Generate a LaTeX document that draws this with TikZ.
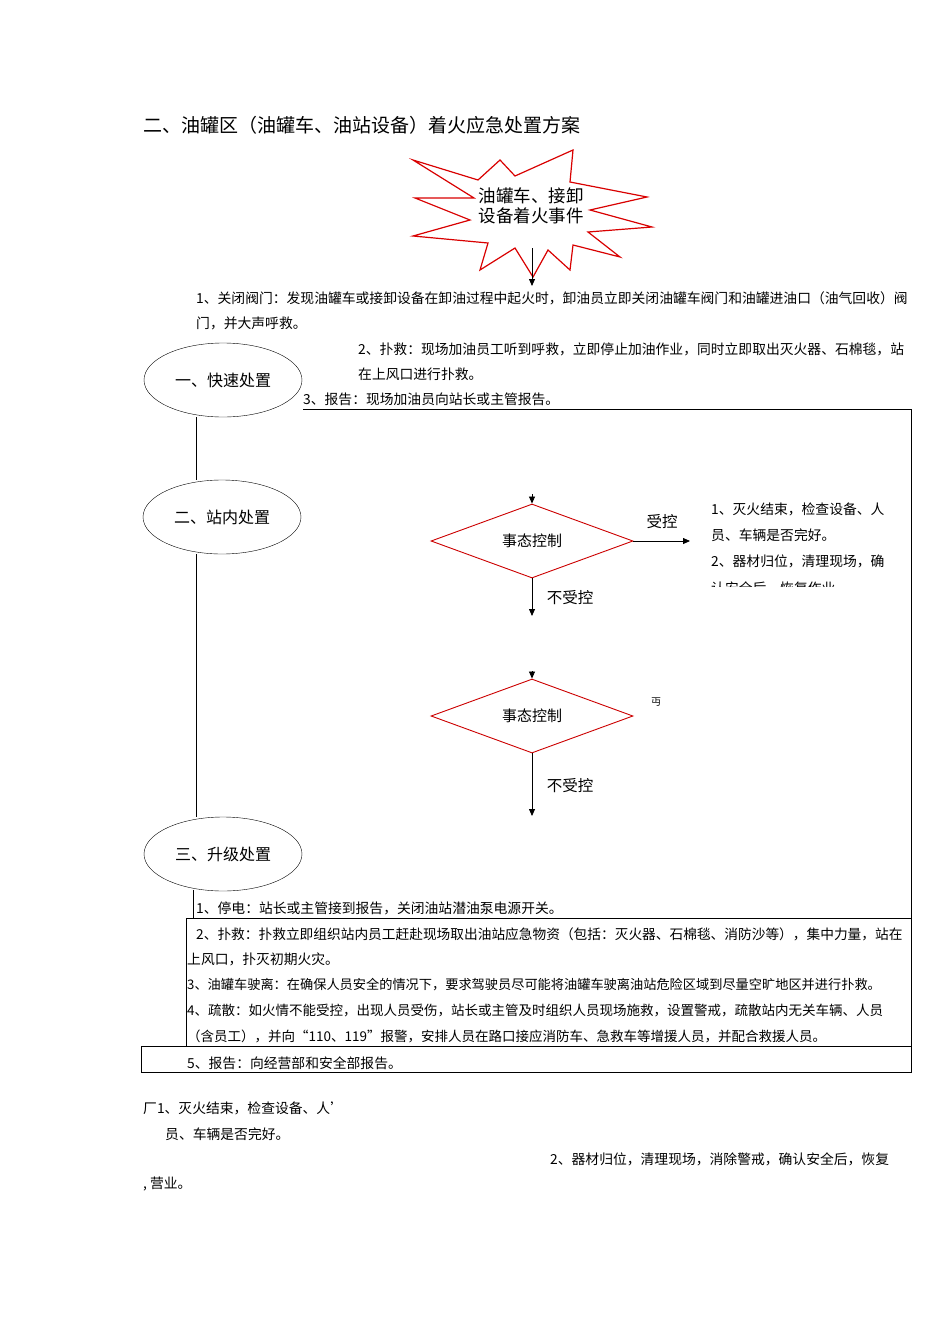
\documentclass[tikz,border=0pt]{standalone}
\usepackage{fontspec}
\setmainfont{Noto Sans CJK SC}
\usetikzlibrary{shapes.geometric,arrows.meta}
\tikzset{
 txt/.style={anchor=west,inner sep=0pt,font=\fontsize{13.8}{15}\selectfont},
 ell/.style={draw,ellipse,minimum width=158pt,minimum height=74pt,font=\fontsize{16}{18}\selectfont},
 dia/.style={draw=red!80!black,diamond,aspect=2.7,minimum width=202pt,minimum height=74pt,inner sep=0pt,font=\fontsize{15}{17}\selectfont,line width=0.9pt},
 arr/.style={-{Triangle[length=7pt,width=6pt]},line width=0.8pt},
 lbl/.style={font=\fontsize{15.5}{17}\selectfont}
}
\begin{document}
\begin{tikzpicture}[x=1pt,y=-1pt]
\useasboundingbox[fill=white] (0,0) rectangle (950,1344);
\node[anchor=west,inner sep=0pt,font=\fontsize{19}{21}\selectfont] (title) at (143,125) {二、油罐区（油罐车、油站设备）着火应急处置方案};
% star
\draw[red!85!black,line width=1.2pt,fill=white] (413,160)--(478,180)--(500,160)--(515,176)--(573,150)--(570,182)--(647,197)--(590,210)--(652,227)--(588,232)--(620,257)--(573,245)--(570,270)--(548,250)--(533,277)--(515,248)--(480,270)--(488,243)--(413,236)--(470,220)--(415,198)--(474,198)--cycle;
\node[align=center,font=\fontsize{17.5}{20}\selectfont,inner sep=0pt] (star) at (531,206) {油罐车、接卸\\设备着火事件};
\coordinate (s1) at (532,248);
\coordinate (s2) at (532,286);
\draw[arr] (s1)--(s2);
\node[txt] (t1) at (196,298) {1、关闭阀门：发现油罐车或接卸设备在卸油过程中起火时，卸油员立即关闭油罐车阀门和油罐进油口（油气回收）阀};
\node[txt] (t1b) at (196,323) {门，并大声呼救。};
\node[ell] (e1) at (223,380) {一、快速处置};
\node[txt] (t2) at (358,349) {2、扑救：现场加油员工听到呼救，立即停止加油作业，同时立即取出灭火器、石棉毯，站};
\node[txt] (t2b) at (358,374) {在上风口进行扑救。};
\node[txt] (t3) at (303,399) {3、报告：现场加油员向站长或主管报告。};
\coordinate (b1) at (303,409); \coordinate (b2) at (911,409); \coordinate (b3) at (911,1072);
\draw[line width=0.7pt] (b1)--(b2)--(b3);
\node[ell] (e2) at (222,517) {二、站内处置};
\node[ell] (e3) at (223,854) {三、升级处置};
\draw (e1.south -| 196,0) -- (e2.north -| 196,0);
\draw (e2.south -| 196,0) -- (e3.north -| 196,0);
% diamond 1
\node[dia] (d1) at (532,541) {事态控制};
\coordinate (d1in) at (532,494);
\draw[arr] (d1in)--(d1.north);
\coordinate (d1r) at (690,541);
\draw[arr] (d1.east)--(d1r);
\node[lbl] (sk) at (662,522) {受控};
\coordinate (d1d) at (532,616);
\draw[arr] (d1.south)--(d1d);
\node[lbl] (nk1) at (570,598) {不受控};
\node[txt] (r1) at (711,509) {1、灭火结束，检查设备、人};
\node[txt] (r2) at (711,535) {员、车辆是否完好。};
\node[txt] (r3) at (711,561) {2、器材归位，清理现场，确};
\begin{scope}
\clip (700,576) rectangle (900,586);
\node[txt] (r4) at (711,588) {认安全后，恢复作业。};
\end{scope}
% diamond 2
\node[dia] (d2) at (532,716) {事态控制};
\coordinate (d2in) at (532,671);
\draw[arr] (d2in)--(d2.north);
\node[font=\fontsize{10}{11}\selectfont] (odd) at (656,702) {丏};
\coordinate (d2d) at (532,816);
\draw[arr] (d2.south)--(d2d);
\node[lbl] (nk2) at (570,786) {不受控};
% lower box
\coordinate (l1) at (193,890); \coordinate (l2) at (193,918);
\draw (l1)--(l2);
\coordinate (m1) at (186,918); \coordinate (m2) at (911,918); \coordinate (m3) at (186,1046);
\draw (m2)--(m1)--(m3);
\coordinate (q1) at (141,1046); \coordinate (q2) at (911,1072);
\draw[line width=0.7pt] (q1) rectangle (q2);
\node[txt] (u1) at (196,908) {1、停电：站长或主管接到报告，关闭油站潜油泵电源开关。};
\node[txt,font=\fontsize{13.7}{15}\selectfont] (u2) at (196,934) {2、扑救：扑救立即组织站内员工赶赴现场取出油站应急物资（包括：灭火器、石棉毯、消防沙等），集中力量，站在};
\node[txt] (u2b) at (187,959) {上风口，扑灭初期火灾。};
\node[txt,font=\fontsize{13.2}{15}\selectfont] (u3) at (187,985) {3、油罐车驶离：在确保人员安全的情况下，要求驾驶员尽可能将油罐车驶离油站危险区域到尽量空旷地区并进行扑救。};
\node[txt,font=\fontsize{13.5}{15}\selectfont] (u4) at (187,1011) {4、疏散：如火情不能受控，出现人员受伤，站长或主管及时组织人员现场施救，设置警戒，疏散站内无关车辆、人员};
\node[txt,font=\fontsize{13.5}{15}\selectfont] (u4b) at (187,1036) {（含员工），并向“110、119”报警，安排人员在路口接应消防车、急救车等增援人员，并配合救援人员。};
\node[txt] (u5) at (187,1063) {5、报告：向经营部和安全部报告。};
% bottom
\node[txt] (w1) at (143,1108) {厂1、灭火结束，检查设备、人’};
\node[txt] (w2) at (165,1134) {员、车辆是否完好。};
\node[txt] (w3) at (550,1159) {2、器材归位，清理现场，消除警戒，确认安全后，恢复};
\node[txt] (w4) at (143,1184) {, 营业。};
\end{tikzpicture}
\end{document}
